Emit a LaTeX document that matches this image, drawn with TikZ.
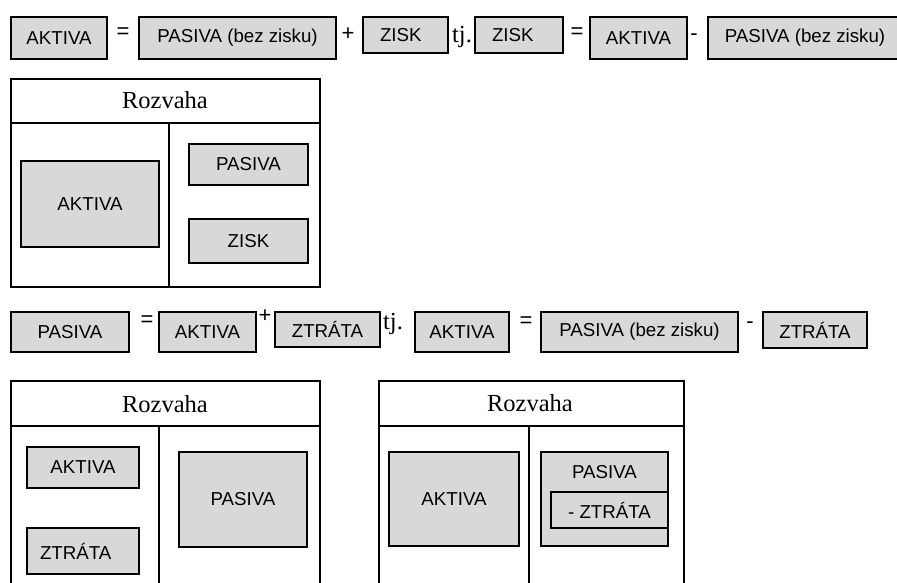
\documentclass[tikz,border=0pt]{standalone}
\usepackage{fontspec}
\setmainfont{Liberation Serif}
\setsansfont{Liberation Sans}
\definecolor{boxgray}{HTML}{D8D8D8}
\tikzset{
  gbox/.style={draw=black, fill=boxgray, line width=1.6pt, inner sep=0pt,
    font=\sffamily\fontsize{18.7}{21}\selectfont},
  opsign/.style={inner sep=0pt, font=\sffamily\fontsize{22}{24}\selectfont},
  serifx/.style={inner sep=0pt, font=\rmfamily\fontsize{24.5}{26}\selectfont},
  frameline/.style={line width=1.4pt, draw=black}
}
\begin{document}
\begin{tikzpicture}[x=1pt,y=-1pt]
\path[use as bounding box] (0,0) rectangle (897,583);
\clip (0,0) rectangle (897,583);
\fill[white] (0,0) rectangle (897,583);

% ---- top equation row ----
\node[gbox, minimum width=96pt, minimum height=42pt] (ta1) at (59,38) {AKTIVA};
\node[opsign] (teq1) at (123,33) {=};
\node[gbox, minimum width=197pt, minimum height=42pt] (tp1) at (237.5,38) {PASIVA (bez zisku)};
\node[opsign] (tplus) at (348,34) {+};
\node[gbox, minimum height=36pt, text width=51pt, inner xsep=17pt, align=left] (tz1) at (405.5,35) {ZISK};
\node[serifx] (ttj) at (462,37) {tj.};
\node[gbox, minimum height=36pt, text width=54pt, inner xsep=17pt, align=left] (tz2) at (519,35) {ZISK};
\node[opsign] (teq2) at (577,33) {=};
\node[gbox, minimum width=97pt, minimum height=42pt] (ta2) at (638.5,38) {AKTIVA};
\node[opsign] (tminus) at (694,37) {-};
\node[gbox, minimum width=194pt, minimum height=42pt] (tp2) at (805,38) {PASIVA (bez zisku)};

% ---- first balance sheet ----
\draw[frameline] (11,79) rectangle (320,287);
\draw[frameline] (11,123) -- (320,123);
\draw[frameline] (169,123) -- (169,287);
\node[serifx] (r1) at (165,100) {Rozvaha};
\node[gbox, minimum width=138pt, minimum height=86pt] (r1a) at (90,204) {AKTIVA};
\node[gbox, minimum width=119pt, minimum height=41pt] (r1p) at (248.5,164.5) {PASIVA};
\node[gbox, minimum width=119pt, minimum height=44pt] (r1z) at (248.5,241) {ZISK};

% ---- second equation row ----
\node[gbox, minimum width=118pt, minimum height=40pt] (ba1) at (70,332) {PASIVA};
\node[opsign] (beq1) at (147,321) {=};
\node[gbox, minimum width=97pt, minimum height=40pt] (ba2) at (207.5,332) {AKTIVA};
\node[opsign] (bplus) at (265,316) {+};
\node[gbox, minimum width=105pt, minimum height=35pt] (bz1) at (327.5,329.5) {ZTRÁTA};
\node[serifx] (btj) at (393,324) {tj.};
\node[gbox, minimum width=94pt, minimum height=40pt] (ba3) at (462,332) {AKTIVA};
\node[opsign] (beq2) at (526,322) {=};
\node[gbox, minimum width=197pt, minimum height=40pt] (bp1) at (639.5,332) {PASIVA (bez zisku)};
\node[opsign] (bminus) at (750,325) {-};
\node[gbox, minimum width=104pt, minimum height=36pt] (bz2) at (815,330) {ZTRÁTA};

% ---- second balance sheet ----
\draw[frameline] (11,600) -- (11,381) -- (320,381) -- (320,600);
\draw[frameline] (11,426) -- (320,426);
\draw[frameline] (159,426) -- (159,600);
\node[serifx] (r2) at (165,404) {Rozvaha};
\node[gbox, minimum width=112pt, minimum height=41pt] (r2a) at (83,467.5) {AKTIVA};
\node[gbox, minimum height=46pt, text width=86pt, inner xsep=13pt, align=left] (r2z) at (83,551) {ZTRÁTA};
\node[gbox, minimum width=128pt, minimum height=95pt] (r2p) at (243,499.5) {PASIVA};

% ---- third balance sheet ----
\draw[frameline] (379,600) -- (379,381) -- (684,381) -- (684,600);
\draw[frameline] (379,426) -- (684,426);
\draw[frameline] (529,426) -- (529,600);
\node[serifx] (r3) at (530,403) {Rozvaha};
\node[gbox, minimum width=130pt, minimum height=94pt] (r3a) at (454,499) {AKTIVA};
\node[gbox, minimum width=127pt, minimum height=94pt] (r3p) at (604.5,499) {};
\node[inner sep=0pt, font=\sffamily\fontsize{18.7}{21}\selectfont] (r3pt) at (604.5,472) {PASIVA};
\node[gbox, minimum width=117pt, minimum height=36pt] (r3z) at (609.5,510) {- ZTRÁTA};
\end{tikzpicture}
\end{document}
